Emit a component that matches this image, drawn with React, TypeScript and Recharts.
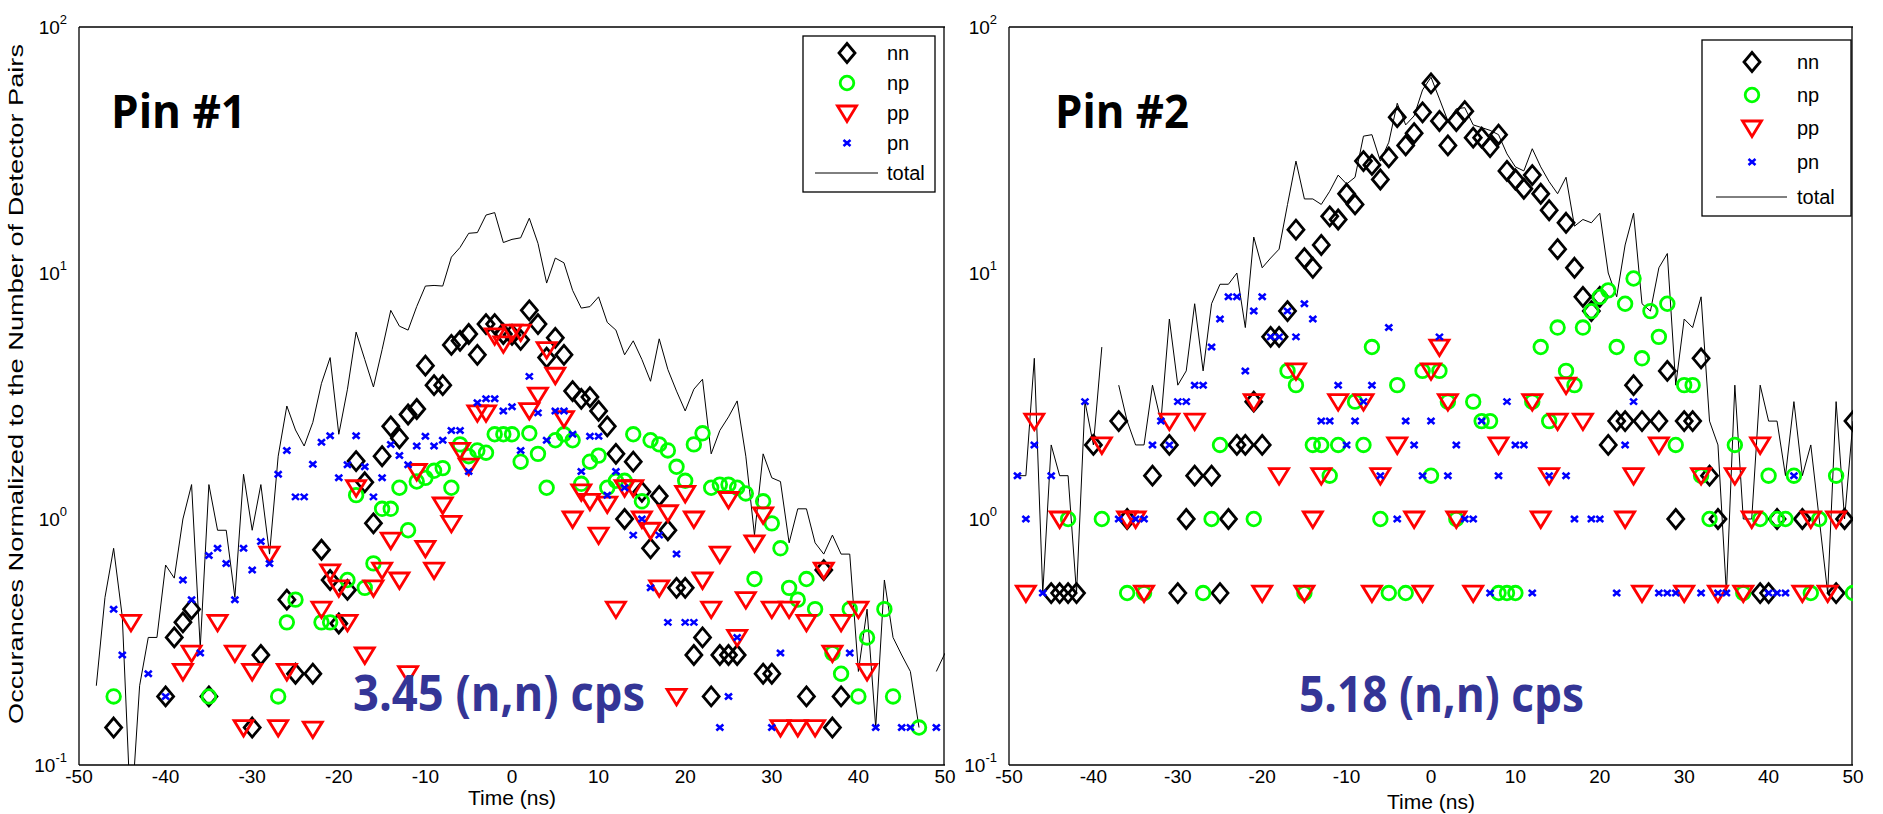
import React from 'react';
import { ComposedChart, Line, Scatter, XAxis, YAxis } from 'recharts';

type Pt = [number, number | null];

const timeTicks = [-50, -40, -30, -20, -10, 0, 10, 20, 30, 40, 50];
const decadeTicks = [0.1, 1, 10, 100];
const decadeExps = ['-1', '0', '1', '2'];
const minorTicks = [0.2, 0.3, 0.4, 0.5, 0.6, 0.7, 0.8, 0.9, 2, 3, 4, 5, 6, 7, 8, 9, 20, 30, 40, 50, 60, 70, 80, 90];

const seriesNames = ['nn', 'np', 'pp', 'pn', 'total'];
const panelTitles = ['Pin #1', 'Pin #2'];
const rateLabels = ['3.45 (n,n) cps', '5.18 (n,n) cps'];
const xTitle = 'Time (ns)';
const yTitle = 'Occurances Normalized to the Number of Detector Pairs';

// ---- Pin #1 ----
const pin1Total: Pt[] = [
  [-48, 0.21], [-47, 0.48], [-46, 0.76], [-45, 0.4], [-44, 0.06], [-43, 0.21], [-42, 0.33], [-41, 0.33],
  [-40, 0.65], [-39, 0.575], [-38, 1.0], [-37, 1.38], [-36, 0.3], [-35, 1.38], [-34, 0.9], [-33, 0.9],
  [-32, 0.48], [-31, 1.52], [-30, 0.9], [-29, 1.38], [-28, 0.72], [-27, 1.8], [-26, 2.88], [-25, 2.3],
  [-24, 1.98], [-23, 2.47], [-22, 3.56], [-21, 4.53], [-20, 2.21], [-19, 3.37], [-18, 5.75], [-17, 4.45],
  [-16, 3.44], [-15, 4.88], [-14, 7.05], [-13, 6.08], [-12, 5.86], [-11, 7.31], [-10, 8.85], [-9, 8.9],
  [-8, 8.85], [-7, 11.6], [-6, 12.7], [-5, 14.5], [-4, 14.6], [-3, 17.2], [-2, 17.6], [-1, 13.3],
  [0, 13.7], [1, 13.9], [2, 16.7], [3, 13.2], [4, 9.1], [5, 11.5], [6, 11.0], [7, 8.5], [8, 7.2],
  [9, 7.3], [10, 8.0], [11, 6.3], [12, 5.86], [13, 4.65], [14, 5.3], [15, 4.45], [16, 3.63], [17, 5.4],
  [18, 4.05], [19, 3.31], [20, 2.75], [21, 3.37], [22, 3.7], [23, 1.84], [24, 2.29], [25, 2.6], [26, 3.02],
  [27, 1.8], [28, 0.86], [29, 1.84], [30, 1.47], [31, 1.42], [32, 0.8], [33, 1.1], [34, 1.1], [35, 0.8],
  [36, 0.72], [37, 0.86], [38, 0.72], [39, 0.72], [40, 0.24], [41, 0.43], [42, 0.142], [43, 0.565],
  [44, 0.33], [45, 0.28], [46, 0.24], [47, 0.142], [48, null], [49, 0.24], [50, 0.285],
];

const pin1NN: Pt[] = [
  [-46, 0.142], [-40, 0.19], [-39, 0.33], [-38, 0.38], [-37, 0.43], [-35, 0.19], [-30, 0.142], [-29, 0.28],
  [-26, 0.47], [-25, 0.235], [-23, 0.235], [-22, 0.75], [-21, 0.565], [-20, 0.376], [-19, 0.515], [-18, 1.72],
  [-17, 1.41], [-16, 0.96], [-15, 1.8], [-14, 2.38], [-13, 2.13], [-12, 2.66], [-11, 2.8], [-10, 4.2],
  [-9, 3.5], [-8, 3.5], [-7, 5.1], [-6, 5.3], [-5, 5.65], [-4, 4.65], [-3, 6.2], [-2, 6.2], [-1, 5.65],
  [0, 5.6], [1, 5.35], [2, 7.05], [3, 6.2], [4, 4.53], [5, 5.45], [6, 4.65], [7, 3.31], [8, 3.08], [9, 3.13],
  [10, 2.75], [11, 2.38], [12, 1.84], [13, 1.0], [14, 1.71], [15, 1.29], [16, 0.76], [17, 1.24], [18, 0.9],
  [19, 0.525], [20, 0.525], [21, 0.28], [22, 0.33], [23, 0.19], [24, 0.28], [25, 0.28], [26, 0.28],
  [29, 0.235], [30, 0.235], [34, 0.19], [36, 0.62], [37, 0.142], [38, 0.19],
];

const pin1NP: Pt[] = [
  [-46, 0.19], [-35, 0.19], [-27, 0.19], [-26, 0.38], [-25, 0.47], [-22, 0.38], [-21, 0.38], [-19, 0.565],
  [-18, 1.25], [-17, 0.525], [-16, 0.66], [-15, 1.1], [-14, 1.1], [-13, 1.34], [-12, 0.9], [-11, 1.42],
  [-10, 1.47], [-9, 1.57], [-8, 1.61], [-7, 1.34], [-6, 2.01], [-5, 1.8], [-4, 1.9], [-3, 1.86], [-2, 2.21],
  [-1, 2.21], [0, 2.21], [1, 1.71], [2, 2.23], [3, 1.84], [4, 1.34], [5, 2.09], [6, 2.21], [7, 2.09],
  [8, 1.39], [9, 1.71], [10, 1.81], [11, 1.34], [12, 1.43], [13, 1.43], [14, 2.21], [15, 1.18], [16, 2.09],
  [17, 2.01], [18, 1.9], [19, 1.63], [20, 1.43], [21, 2.01], [22, 2.23], [23, 1.34], [24, 1.38], [25, 1.38],
  [26, 1.34], [27, 1.27], [28, 0.57], [29, 1.18], [30, 0.96], [31, 0.76], [32, 0.525], [33, 0.47],
  [34, 0.57], [35, 0.43], [37, 0.285], [38, 0.235], [39, 0.43], [40, 0.19], [41, 0.33], [43, 0.43],
  [44, 0.19], [47, 0.142],
];

const pin1PP: Pt[] = [
  [-44, 0.38], [-38, 0.24], [-37, 0.285], [-34, 0.38], [-32, 0.285], [-31, 0.142], [-30, 0.24], [-28, 0.72],
  [-27, 0.142], [-26, 0.24], [-23, 0.14], [-22, 0.43], [-21, 0.61], [-20, 0.525], [-19, 0.38], [-18, 1.34],
  [-17, 0.28], [-16, 0.525], [-15, 0.62], [-14, 0.82], [-13, 0.565], [-12, 0.235], [-11, 1.56], [-10, 0.76],
  [-9, 0.62], [-8, 1.14], [-7, 0.96], [-6, 1.9], [-5, 1.64], [-4, 2.7], [-3, 2.7], [-2, 5.55], [-1, 5.15],
  [0, 5.75], [1, 5.75], [2, 2.76], [3, 3.19], [4, 4.88], [5, 3.84], [6, 2.56], [7, 1.0], [8, 1.29],
  [9, 1.18], [10, 0.86], [11, 1.15], [12, 0.43], [13, 1.34], [14, 1.34], [15, 1.0], [16, 0.9], [17, 0.525],
  [18, 1.06], [19, 0.19], [20, 1.27], [21, 1.0], [22, 0.565], [23, 0.43], [24, 0.72], [25, 1.2], [26, 0.33],
  [27, 0.47], [28, 0.8], [29, 1.04], [30, 0.43], [31, 0.142], [32, 0.43], [33, 0.142], [34, 0.38],
  [35, 0.142], [36, 0.62], [37, 0.285], [38, 0.38], [40, 0.43], [41, 0.24],
];

const pin1PN: Pt[] = [
  [-46, 0.43], [-45, 0.28], [-42, 0.235], [-40, 0.19], [-38, 0.565], [-37, 0.47], [-36, 0.285], [-35, 0.71],
  [-34, 0.76], [-33, 0.66], [-32, 0.47], [-31, 0.76], [-30, 0.62], [-29, 0.81], [-28, 0.66], [-27, 1.52],
  [-26, 1.9], [-25, 1.23], [-24, 1.23], [-23, 1.67], [-22, 2.05], [-21, 2.18], [-20, 1.47], [-19, 1.66],
  [-18, 2.18], [-17, 1.63], [-16, 1.23], [-15, 1.47], [-14, 2.01], [-13, 1.81], [-12, 1.66], [-11, 1.98],
  [-10, 2.17], [-9, 1.98], [-8, 2.09], [-7, 2.29], [-6, 2.29], [-5, 1.56], [-4, 2.97], [-3, 3.08],
  [-2, 3.08], [-1, 2.75], [0, 2.86], [1, 1.9], [2, 3.8], [3, 2.7], [4, 2.09], [5, 2.75], [6, 2.75],
  [7, 2.21], [8, 1.56], [9, 2.17], [10, 2.17], [11, 1.25], [12, 1.56], [13, 1.34], [14, 0.86], [15, 1.0],
  [16, 0.525], [17, 0.86], [18, 0.38], [19, 0.72], [20, 0.38], [21, 0.38], [24, 0.142], [25, 0.19],
  [26, 0.33], [30, 0.142], [31, 0.285], [39, 0.285], [42, 0.142], [45, 0.142], [46, 0.142], [49, 0.142],
];

// ---- Pin #2 ----
const pin2Total: Pt[] = [
  [-49, 1.5], [-48, 1.5], [-47, 4.5], [-46, 0.5], [-45, 2.0], [-44, 1.5], [-43, 1.5], [-42, 0.5], [-41, 3.0],
  [-40, 2.0], [-39, 5.0], [-38, null], [-37, 3.5], [-36, 2.5], [-35, 2.0], [-34, 2.0], [-33, 3.5], [-32, 2.5],
  [-31, 6.5], [-30, 3.5], [-29, 4.0], [-28, 7.5], [-27, 4.0], [-26, 7.5], [-25, 9.0], [-24, 9.0], [-23, 10],
  [-22, 6.0], [-21, 14], [-20, 10.5], [-19, 11.5], [-18, 12.5], [-17, 19], [-16, 28.5], [-15, 20], [-14, 20],
  [-13, 19], [-12, 21.5], [-11, 25], [-10, 23], [-9, 24.5], [-8, 36], [-7, 36.5], [-6, 28.5], [-5, 34],
  [-4, 49], [-3, 40], [-2, 43.5], [-1, 55.5], [0, 62.5], [1, 51], [2, 41.5], [3, 46.5], [4, 47], [5, 40],
  [6, 39], [7, 38], [8, 36.5], [9, 30.5], [10, 27], [11, 26], [12, 32], [13, 27], [14, 23.5], [15, 21],
  [16, 24.5], [17, 15.5], [18, 16.5], [19, 16], [20, 17.5], [21, 10], [22, 8], [23, 13], [24, 17.5],
  [25, 7.5], [26, 7], [27, 10.5], [28, 12], [29, 3.5], [30, 6.5], [31, 6], [32, 8], [33, 2.5], [34, 2.0],
  [35, 0.5], [36, 3.5], [37, 1.0], [38, 1.0], [39, 3.5], [40, 2.5], [41, 2.5], [42, 1.5], [43, 3.0],
  [44, 1.5], [45, 2.0], [46, 1.0], [47, 0.5], [48, 3.0], [49, 1.0], [50, 2.5],
];

const pin2NN: Pt[] = [
  [-45, 0.5], [-44, 0.5], [-43, 0.5], [-42, 0.5], [-40, 2.0], [-37, 2.5], [-36, 1.0], [-33, 1.5], [-31, 2.0],
  [-30, 0.5], [-29, 1.0], [-28, 1.5], [-26, 1.5], [-25, 0.5], [-24, 1.0], [-23, 2.0], [-22, 2.0], [-21, 3.0],
  [-20, 2.0], [-19, 5.5], [-18, 5.5], [-17, 7.0], [-16, 15], [-15, 11.5], [-14, 10.5], [-13, 13], [-12, 17],
  [-11, 16.5], [-10, 21], [-9, 19], [-8, 28.5], [-7, 27.5], [-6, 24], [-5, 29.5], [-4, 43], [-3, 33],
  [-2, 37], [-1, 45], [0, 59], [1, 41.5], [2, 33], [3, 41.5], [4, 45.5], [5, 35.5], [6, 35.5], [7, 32.5],
  [8, 36.5], [9, 26], [10, 24], [11, 22], [12, 25], [13, 21], [14, 18], [15, 12.5], [16, 16], [17, 10.5],
  [18, 8.0], [19, 7.0], [20, 8.0], [21, 2.0], [22, 2.5], [23, 2.5], [24, 3.5], [25, 2.5], [27, 2.5],
  [28, 4.0], [29, 1.0], [30, 2.5], [31, 2.5], [32, 4.5], [33, 1.5], [34, 1.0], [39, 0.5], [40, 0.5],
  [41, 1.0], [44, 1.0], [48, 0.5], [49, 1.0], [50, 2.5],
];

const pin2NP: Pt[] = [
  [-43, 1.0], [-39, 1.0], [-36, 0.5], [-34, 0.5], [-27, 0.5], [-26, 1.0], [-25, 2.0], [-21, 1.0], [-17, 4.0],
  [-16, 3.5], [-15, 0.5], [-14, 2.0], [-13, 2.0], [-12, 1.5], [-11, 2.0], [-9, 3.0], [-8, 2.0], [-7, 5.0],
  [-6, 1.0], [-5, 0.5], [-4, 3.5], [-3, 0.5], [-1, 4.0], [0, 1.5], [1, 4.0], [2, 3.0], [3, 1.0], [5, 3.0],
  [6, 2.5], [7, 2.5], [8, 0.5], [9, 0.5], [10, 0.5], [12, 3.0], [13, 5.0], [14, 2.5], [15, 6.0], [16, 4.0],
  [17, 3.5], [18, 6.0], [19, 7.0], [20, 8.0], [21, 8.5], [22, 5.0], [23, 7.5], [24, 9.5], [25, 4.5],
  [26, 7.0], [27, 5.5], [28, 7.5], [29, 2.0], [30, 3.5], [31, 3.5], [32, 1.5], [33, 1.0], [36, 2.0],
  [37, 0.5], [39, 1.0], [40, 1.5], [41, 1.0], [42, 1.0], [43, 1.5], [45, 0.5], [46, 1.0], [48, 1.5], [50, 0.5],
];

const pin2PP: Pt[] = [
  [-48, 0.5], [-47, 2.5], [-44, 1.0], [-39, 2.0], [-36, 1.0], [-35, 1.0], [-34, 0.5], [-31, 2.5], [-28, 2.5],
  [-21, 3.0], [-20, 0.5], [-18, 1.5], [-16, 4.0], [-15, 0.5], [-14, 1.0], [-13, 1.5], [-11, 3.0], [-8, 3.0],
  [-7, 0.5], [-6, 1.5], [-4, 2.0], [-2, 1.0], [-1, 0.5], [0, 4.0], [1, 5.0], [2, 3.0], [3, 1.0], [5, 0.5],
  [8, 2.0], [12, 3.0], [13, 1.0], [14, 1.5], [15, 2.5], [16, 3.5], [18, 2.5], [23, 1.0], [24, 1.5],
  [25, 0.5], [27, 2.0], [30, 0.5], [32, 1.5], [34, 0.5], [36, 1.5], [37, 0.5], [38, 1.0], [39, 2.0],
  [44, 0.5], [45, 1.0], [47, 0.5], [48, 1.0],
];

const pin2PN: Pt[] = [
  [-49, 1.5], [-48, 1.0], [-47, 2.0], [-46, 0.5], [-45, 1.5], [-41, 3.0], [-37, 1.0], [-35, 1.0], [-34, 1.0],
  [-33, 2.0], [-32, 2.5], [-31, 2.0], [-30, 3.0], [-29, 3.0], [-28, 3.5], [-27, 3.5], [-26, 5.0], [-25, 6.5],
  [-24, 8.0], [-23, 8.0], [-22, 4.0], [-21, 7.0], [-20, 8.0], [-19, 5.5], [-18, 5.5], [-17, 7.0], [-16, 5.5],
  [-15, 7.5], [-14, 6.5], [-13, 2.5], [-12, 2.5], [-11, 3.5], [-10, 2.0], [-9, 2.5], [-8, 3.0], [-7, 3.5],
  [-6, 1.5], [-5, 6.0], [-4, 1.0], [-3, 2.5], [-2, 2.0], [-1, 1.5], [0, 2.5], [1, 5.5], [2, 1.5], [3, 2.0],
  [4, 1.0], [5, 1.0], [6, 2.5], [7, 0.5], [8, 1.5], [9, 3.0], [10, 2.0], [11, 2.0], [12, 0.5], [14, 1.5],
  [16, 1.5], [17, 1.0], [19, 1.0], [20, 1.0], [22, 0.5], [23, 2.0], [24, 3.0], [27, 0.5], [28, 0.5],
  [29, 0.5], [32, 0.5], [34, 0.5], [35, 0.5], [40, 0.5], [41, 0.5], [42, 0.5], [43, 1.5],
];

const FONT = '"Liberation Sans", Arial, sans-serif';
const BOLD_FONT = '"Open Sans", "Noto Sans", sans-serif';

const rows = (pts: Pt[]) => pts.map(([t, v]) => ({ t, v }));

// marker shapes, MATLAB style
const DiamondMark = ({ cx, cy }: any) =>
  cx == null ? <g /> : (
    <path d={`M${cx},${cy - 9.5}L${cx + 8},${cy}L${cx},${cy + 9.5}L${cx - 8},${cy}Z`} fill="none" stroke="#000" strokeWidth={2.8} />
  );
const CircleMark = ({ cx, cy }: any) =>
  cx == null ? <g /> : <circle cx={cx} cy={cy} r={6.8} fill="none" stroke="#00ff00" strokeWidth={2.8} />;
const TriangleMark = ({ cx, cy }: any) =>
  cx == null ? <g /> : (
    <polygon points={`${cx - 9.5},${cy - 7} ${cx + 9.5},${cy - 7} ${cx},${cy + 8.5}`} fill="none" stroke="#ff0000" strokeWidth={2.8} />
  );
const CrossMark = ({ cx, cy }: any) =>
  cx == null ? <g /> : (
    <path d={`M${cx - 3.5},${cy - 3}L${cx + 3.5},${cy + 3}M${cx - 3.5},${cy + 3}L${cx + 3.5},${cy - 3}`} stroke="#0000ff" strokeWidth={2.6} />
  );

const markers = [DiamondMark, CircleMark, TriangleMark, CrossMark];

function PowTick(props: any) {
  const { x, y, payload } = props;
  const exp = decadeExps[decadeTicks.indexOf(payload.value)];
  return (
    <text x={x} y={y} dy={7} textAnchor="end" fontFamily={FONT} fontSize={19} fill="#000">
      10<tspan dy={-10} fontSize={13}>{exp}</tspan>
    </text>
  );
}

interface PanelProps {
  left: number;
  width: number;
  yWidth: number;
  marginLeft: number;
  total: Pt[];
  nn: Pt[];
  np: Pt[];
  pp: Pt[];
  pn: Pt[];
}

function Panel({ left, width, yWidth, marginLeft, total, nn, np, pp, pn }: PanelProps) {
  const axisLine = { stroke: '#000', strokeWidth: 1.3 };
  const tickLine = { stroke: '#000', strokeWidth: 1 };
  const scatterSets = [nn, np, pp, pn];
  return (
    <div style={{ position: 'absolute', left, top: 0 }}>
      <ComposedChart width={width} height={814} data={rows(total)} margin={{ top: 27, right: 15, bottom: 9, left: marginLeft }}>
        <XAxis xAxisId="x" dataKey="t" type="number" domain={[-50, 50]} allowDataOverflow ticks={timeTicks} interval={0}
          tickLine={false} tickSize={0} tickMargin={5} axisLine={axisLine} height={40}
          tick={{ fill: '#000', fontSize: 19, fontFamily: FONT }} />
        <XAxis xAxisId="xb" type="number" domain={[-50, 50]} allowDataOverflow ticks={timeTicks} interval={0}
          mirror tick={false} tickSize={7} tickLine={tickLine} axisLine={false} />
        <XAxis xAxisId="xt" orientation="top" type="number" domain={[-50, 50]} allowDataOverflow ticks={timeTicks} interval={0}
          mirror tick={false} tickSize={7} tickLine={tickLine} axisLine={axisLine} />
        <YAxis yAxisId="y" type="number" scale="log" domain={[0.1, 100]} allowDataOverflow ticks={decadeTicks} interval={0}
          tickLine={false} tickSize={0} tickMargin={12} axisLine={axisLine} width={yWidth} tick={PowTick} />
        <YAxis yAxisId="ylm" type="number" scale="log" domain={[0.1, 100]} allowDataOverflow ticks={minorTicks} interval={0}
          mirror tick={false} tickSize={5} tickLine={tickLine} axisLine={false} />
        <YAxis yAxisId="ylM" type="number" scale="log" domain={[0.1, 100]} allowDataOverflow ticks={decadeTicks} interval={0}
          mirror tick={false} tickSize={9} tickLine={tickLine} axisLine={false} />
        <YAxis yAxisId="yrm" orientation="right" type="number" scale="log" domain={[0.1, 100]} allowDataOverflow ticks={minorTicks} interval={0}
          mirror width={1} tick={false} tickSize={5} tickLine={tickLine} axisLine={axisLine} />
        <YAxis yAxisId="yrM" orientation="right" type="number" scale="log" domain={[0.1, 100]} allowDataOverflow ticks={decadeTicks} interval={0}
          mirror width={1} tick={false} tickSize={9} tickLine={tickLine} axisLine={false} />
        {scatterSets.map((set, i) => (
          <Scatter key={seriesNames[i]} name={seriesNames[i]} xAxisId="x" yAxisId="y" data={rows(set)} dataKey="v"
            shape={markers[i]} isAnimationActive={false} />
        ))}
        <Line xAxisId="x" yAxisId="y" name="total" dataKey="v" type="linear" stroke="#000" strokeWidth={1}
          dot={false} activeDot={false} connectNulls={false} isAnimationActive={false} />
      </ComposedChart>
    </div>
  );
}

interface LegendBoxProps {
  x: number; y: number; w: number; h: number; rowY: number[]; markX: number; textX: number; lineX: [number, number];
}

function LegendBox({ x, y, w, h, rowY, markX, textX, lineX }: LegendBoxProps) {
  return (
    <g>
      <rect x={x} y={y} width={w} height={h} fill="#fff" stroke="#000" strokeWidth={1.3} />
      {seriesNames.map((name, i) => {
        const Mark = markers[i];
        return (
          <g key={name}>
            {Mark ? <Mark cx={markX} cy={rowY[i]} /> : (
              <line x1={lineX[0]} x2={lineX[1]} y1={rowY[i]} y2={rowY[i]} stroke="#000" strokeWidth={1} />
            )}
            <text x={textX} y={rowY[i]} dy={7} fontFamily={FONT} fontSize={20} fill="#000">{name}</text>
          </g>
        );
      })}
    </g>
  );
}

export default function App() {
  return (
    <div style={{ position: 'absolute', left: 0, top: 0, width: 1883, height: 814, background: '#fff', overflow: 'hidden' }}>
      <Panel left={0} width={960} yWidth={60} marginLeft={19} total={pin1Total} nn={pin1NN} np={pin1NP} pp={pin1PP} pn={pin1PN} />
      <Panel left={960} width={908} yWidth={49} marginLeft={0} total={pin2Total} nn={pin2NN} np={pin2NP} pp={pin2PP} pn={pin2PN} />
      <svg width={1883} height={814} style={{ position: 'absolute', left: 0, top: 0, pointerEvents: 'none' }}>
        <text transform="translate(23,384) rotate(-90)" textAnchor="middle" fontFamily={FONT} fontSize={21} fill="#000"
          textLength={680} lengthAdjust="spacingAndGlyphs">{yTitle}</text>
        <text x={512} y={805} textAnchor="middle" fontFamily={FONT} fontSize={21} fill="#000">{xTitle}</text>
        <text x={1431} y={809} textAnchor="middle" fontFamily={FONT} fontSize={21} fill="#000">{xTitle}</text>
        <text x={111} y={128} fontFamily={BOLD_FONT} fontWeight={700} fontSize={46} fill="#000" textLength={135} lengthAdjust="spacingAndGlyphs">{panelTitles[0]}</text>
        <text x={1055} y={128} fontFamily={BOLD_FONT} fontWeight={700} fontSize={46} fill="#000" textLength={134} lengthAdjust="spacingAndGlyphs">{panelTitles[1]}</text>
        <text x={353} y={711} fontFamily={BOLD_FONT} fontWeight={700} fontSize={50} fill="#343596" textLength={292} lengthAdjust="spacingAndGlyphs">{rateLabels[0]}</text>
        <text x={1299} y={712} fontFamily={BOLD_FONT} fontWeight={700} fontSize={50} fill="#343596" textLength={285} lengthAdjust="spacingAndGlyphs">{rateLabels[1]}</text>
        <LegendBox x={803} y={36} w={132} h={156} rowY={[53, 83, 113, 143, 173]} markX={847} textX={887} lineX={[815, 878]} />
        <LegendBox x={1702} y={40} w={149} h={176} rowY={[62, 95, 128, 162, 197]} markX={1752} textX={1797} lineX={[1716, 1787]} />
      </svg>
    </div>
  );
}
